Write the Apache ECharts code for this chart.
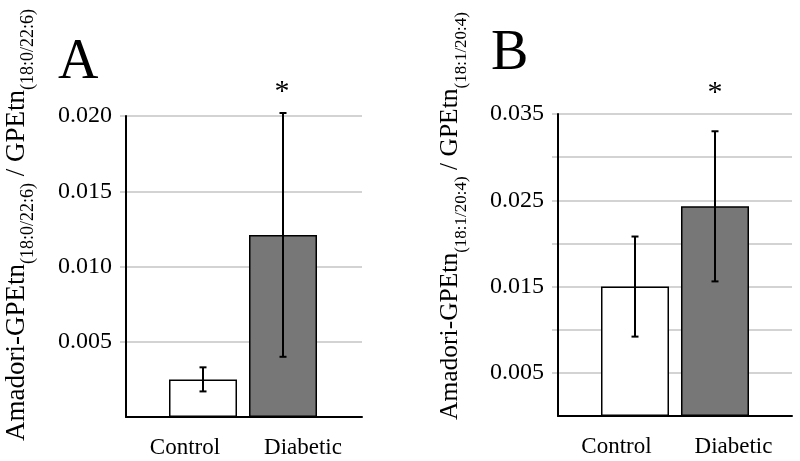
<!DOCTYPE html>
<html><head><meta charset="utf-8">
<script src="https://cdn.jsdelivr.net/npm/echarts@6/dist/echarts.min.js"></script>
<style>html,body{margin:0;padding:0;background:#fff}#c{width:800px;height:461px}</style>
</head><body><div id="c"></div>
<script>
// ---- data ----
const categories = ['Control', 'Diabetic'];
const valuesA = [0.0025, 0.0121];
const errorsA = [0.0008, 0.0081];
const valuesB = [0.0150, 0.0243];
const errorsB = [0.0058, 0.0087];
const ticksA = ['0.005', '0.010', '0.015', '0.020'];
const ticksB = ['0.005', '0.015', '0.025', '0.035'];
const titleA = ['Amadori-GPEtn', '(18:0/22:6)', ' / GPEtn', '(18:0/22:6)'];
const titleB = ['Amadori-GPEtn', '(18:1/20:4)', ' / GPEtn', '(18:1/20:4)'];
const maxA = 0.020, maxB = 0.035, step = 0.005;

const FONT = 'Liberation Serif';
const barColors = ['#ffffff', '#777777'];
const chart = echarts.init(document.getElementById('c'));

const grids = [], xAxes = [], yAxes = [], series = [];

function addPanel(axisX, plotRight, top, bottom, max, ticks, values, errors) {
  const g0 = grids.length;
  // gridline grid (extends 6px left of the axis)
  grids.push({left: axisX - 6, right: 800 - plotRight, top, bottom});
  // axis grid
  grids.push({left: axisX, right: 800 - plotRight, top, bottom});
  // bar grid
  grids.push({left: axisX + 37, width: 160, top, bottom});

  xAxes.push({gridIndex: g0, type: 'value', min: 0, max: 1, show: false});
  yAxes.push({gridIndex: g0, type: 'value', min: 0, max, interval: step,
    axisLine: {show: false}, axisTick: {show: false}, axisLabel: {show: false},
    splitLine: {show: true, showMinLine: false, lineStyle: {color: '#c4c4c4', width: 1.5}}});

  xAxes.push({gridIndex: g0 + 1, type: 'category', data: categories,
    axisLine: {show: true, lineStyle: {color: '#000', width: 2}},
    axisTick: {show: false}, splitLine: {show: false},
    axisLabel: {interval: 0, margin: 19, fontSize: 23, fontFamily: FONT, color: '#000'}});
  yAxes.push({gridIndex: g0 + 1, type: 'value', min: 0, max, interval: step,
    axisLine: {show: true, lineStyle: {color: '#000', width: 2}},
    axisTick: {show: false}, splitLine: {show: false},
    axisLabel: {show: true, margin: 14, fontSize: 24, fontFamily: FONT, color: '#000',
      formatter: v => { const s = v.toFixed(3); return ticks.includes(s) ? s : ''; }}});

  xAxes.push({gridIndex: g0 + 2, type: 'category', data: categories, show: false});
  yAxes.push({gridIndex: g0 + 2, type: 'value', min: 0, max, interval: step, show: false});

  const axisIdx = xAxes.length - 1;
  series.push({type: 'bar', xAxisIndex: axisIdx, yAxisIndex: axisIdx, barWidth: 68,
    data: values.map((v, i) => ({value: v, itemStyle: {color: barColors[i], borderColor: '#000', borderWidth: 1.5}})),
    z: 2});
  series.push({type: 'custom', xAxisIndex: axisIdx, yAxisIndex: axisIdx, z: 3,
    data: values.map((v, i) => [i, v - errors[i], v + errors[i]]),
    renderItem: (params, api) => {
      const lo = api.coord([api.value(0), api.value(1)]);
      const hi = api.coord([api.value(0), api.value(2)]);
      const cw = 3.5;
      const st = {stroke: '#000', lineWidth: 2};
      return {type: 'group', children: [
        {type: 'line', shape: {x1: lo[0], y1: lo[1], x2: hi[0], y2: hi[1]}, style: st},
        {type: 'line', shape: {x1: lo[0] - cw, y1: lo[1], x2: lo[0] + cw, y2: lo[1]}, style: st},
        {type: 'line', shape: {x1: hi[0] - cw, y1: hi[1], x2: hi[0] + cw, y2: hi[1]}, style: st}
      ]};
    }});
}

addPanel(126, 362, 116, 44, maxA, ticksA, valuesA, errorsA);
addPanel(558, 792, 114, 45, maxB, ticksB, valuesB, errorsB);

function titleText(parts) {
  return '{m|' + parts[0] + '}{s|' + parts[1] + '}{m|' + parts[2] + '}{s|' + parts[3] + '}';
}
function makeRich(m, s, pad) {
  return {
    m: {fontSize: m, fontFamily: FONT, fill: '#000', verticalAlign: 'top', lineHeight: m + 3},
    s: {fontSize: s, fontFamily: FONT, fill: '#000', verticalAlign: 'top', lineHeight: s, padding: [pad, 0, 0, 0]}
  };
}

const graphic = [
  {type: 'text', x: 58, y: 63, style: {text: 'A', fontSize: 56, fontFamily: FONT, fill: '#000', align: 'left', verticalAlign: 'middle'}},
  {type: 'text', x: 491, y: 54, style: {text: 'B', fontSize: 56, fontFamily: FONT, fill: '#000', align: 'left', verticalAlign: 'middle'}},
  {type: 'text', x: 282, y: 92, style: {text: '*', fontSize: 30, fontFamily: FONT, fill: '#000', align: 'center', verticalAlign: 'middle'}},
  {type: 'text', x: 715, y: 93, style: {text: '*', fontSize: 30, fontFamily: FONT, fill: '#000', align: 'center', verticalAlign: 'middle'}},
  {type: 'text', x: 18, y: 225, rotation: Math.PI / 2, style: {text: titleText(titleA), rich: makeRich(27, 18, 16), align: 'center', verticalAlign: 'middle'}},
  {type: 'text', x: 452, y: 216, rotation: Math.PI / 2, style: {text: titleText(titleB), rich: makeRich(25.5, 17, 15), align: 'center', verticalAlign: 'middle'}}
];

chart.setOption({
  animation: false,
  backgroundColor: '#fff',
  grid: grids, xAxis: xAxes, yAxis: yAxes, series, graphic
});
</script>
</body></html>
